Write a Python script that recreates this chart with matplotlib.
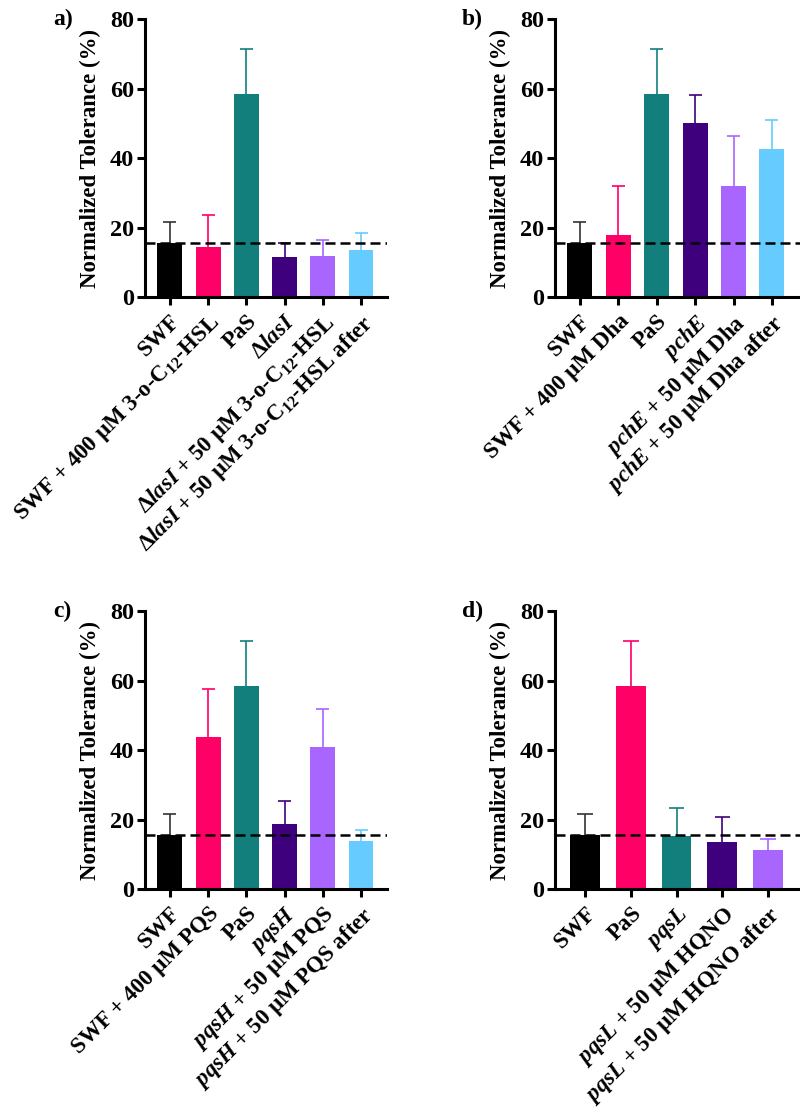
import matplotlib
matplotlib.use("Agg")
import matplotlib.pyplot as plt
import numpy as np

plt.rcParams['font.family'] = ['Liberation Serif', 'DejaVu Serif']
plt.rcParams['font.weight'] = 'bold'
plt.rcParams['axes.labelweight'] = 'bold'
plt.rcParams['mathtext.fontset'] = 'custom'
plt.rcParams['mathtext.rm'] = 'Liberation Serif:bold'
plt.rcParams['mathtext.it'] = 'Liberation Serif:bold:italic'
plt.rcParams['mathtext.bf'] = 'Liberation Serif:bold'

# colours used by the bars
BLACK = '#000000'
PINK = '#ff0066'
TEAL = '#127f7d'
DPURPLE = '#3f007d'
LPURPLE = '#a966ff'
LBLUE = '#66ccff'

# panel a
labels_a = ['SWF', 'SWF + 400 µM 3-o-C$_{12}$-HSL', 'PaS', r'$\mathit{\Delta lasI}$',
            r'$\mathit{\Delta lasI}$ + 50 µM 3-o-C$_{12}$-HSL',
            r'$\mathit{\Delta lasI}$ + 50 µM 3-o-C$_{12}$-HSL after']
mean_a = [15.6, 14.3, 58.5, 11.4, 11.7, 13.5]
err_a = [6.1, 9.3, 12.9, 4.2, 4.6, 4.8]

# panel b
labels_b = ['SWF', 'SWF + 400 µM Dha', 'PaS', r'$\mathit{pchE}$',
            r'$\mathit{pchE}$ + 50 µM Dha', r'$\mathit{pchE}$ + 50 µM Dha after']
mean_b = [15.6, 17.9, 58.5, 50.0, 31.9, 42.7]
err_b = [6.1, 14.1, 12.9, 8.2, 14.3, 8.1]

# panel c
labels_c = ['SWF', 'SWF + 400 µM PQS', 'PaS', r'$\mathit{pqsH}$',
            r'$\mathit{pqsH}$ + 50 µM PQS', r'$\mathit{pqsH}$ + 50 µM PQS after']
mean_c = [15.6, 43.7, 58.5, 18.7, 40.8, 13.9]
err_c = [6.1, 13.8, 12.9, 6.6, 11.1, 3.0]

# panel d
labels_d = ['SWF', 'PaS', r'$\mathit{pqsL}$',
            r'$\mathit{pqsL}$ + 50 µM HQNO', r'$\mathit{pqsL}$ + 50 µM HQNO after']
mean_d = [15.6, 58.5, 15.4, 13.4, 11.3]
err_d = [6.1, 12.9, 7.9, 7.2, 3.1]

colors6 = [BLACK, PINK, TEAL, DPURPLE, LPURPLE, LBLUE]
colors_d = [BLACK, PINK, TEAL, DPURPLE, LPURPLE]
baseline = 15.5


def draw_panel(ax, labels, means, errs, colors, tag, xlim):
    x = np.arange(len(means))
    ax.bar(x, means, width=0.65, color=colors, zorder=2)
    # upper-only error bars, coloured like the bar
    ecols = ['#333333' if c == BLACK else c for c in colors]
    tops = np.array(means) + np.array(errs)
    ax.vlines(x, means, tops, colors=ecols, lw=1.2, zorder=1)
    ax.hlines(tops, x - 0.17, x + 0.17, colors=ecols, lw=1.2, zorder=1)
    ax.axhline(baseline, color='black', lw=1.8, ls=(0, (4, 2)), zorder=3)
    ax.set_ylim(0, 80)
    ax.set_xlim(*xlim)
    ax.set_yticks([0, 20, 40, 60, 80])
    ax.set_xticks(x)
    ax.set_xticklabels(labels, rotation=45, ha='right', rotation_mode='anchor',
                       fontsize=16.5, fontweight='bold')
    ax.tick_params(axis='y', labelsize=17.5, length=6, width=2.2, pad=2)
    ax.tick_params(axis='x', length=6, width=2.2, pad=4)
    for lab in ax.get_yticklabels():
        lab.set_fontweight('bold')
    for s in ['top', 'right']:
        ax.spines[s].set_visible(False)
    for s in ['left', 'bottom']:
        ax.spines[s].set_linewidth(2.2)
    ax.set_ylabel('Normalized Tolerance (%)', fontsize=16.5, fontweight='bold',
                  labelpad=6)
    ax.text(-0.38, 1.0, tag, transform=ax.transAxes, fontsize=17,
            fontweight='bold', ha='left', va='center')


fig = plt.figure(figsize=(8, 11.12), dpi=100)
ax_a = fig.add_axes([0.18125, 0.7329, 0.3025, 0.25])
ax_b = fig.add_axes([0.69375, 0.7329, 0.30625, 0.25])
ax_c = fig.add_axes([0.18125, 0.2005, 0.3025, 0.25])
ax_d = fig.add_axes([0.69375, 0.2005, 0.30625, 0.25])

draw_panel(ax_a, labels_a, mean_a, err_a, colors6, 'a)', (-0.65, 5.68))
draw_panel(ax_b, labels_b, mean_b, err_b, colors6, 'b)', (-0.65, 5.73))
draw_panel(ax_c, labels_c, mean_c, err_c, colors6, 'c)', (-0.65, 5.68))
draw_panel(ax_d, labels_d, mean_d, err_d, colors_d, 'd)', (-0.66, 4.70))

fig.savefig('out.png', dpi=100)
plt.close()
